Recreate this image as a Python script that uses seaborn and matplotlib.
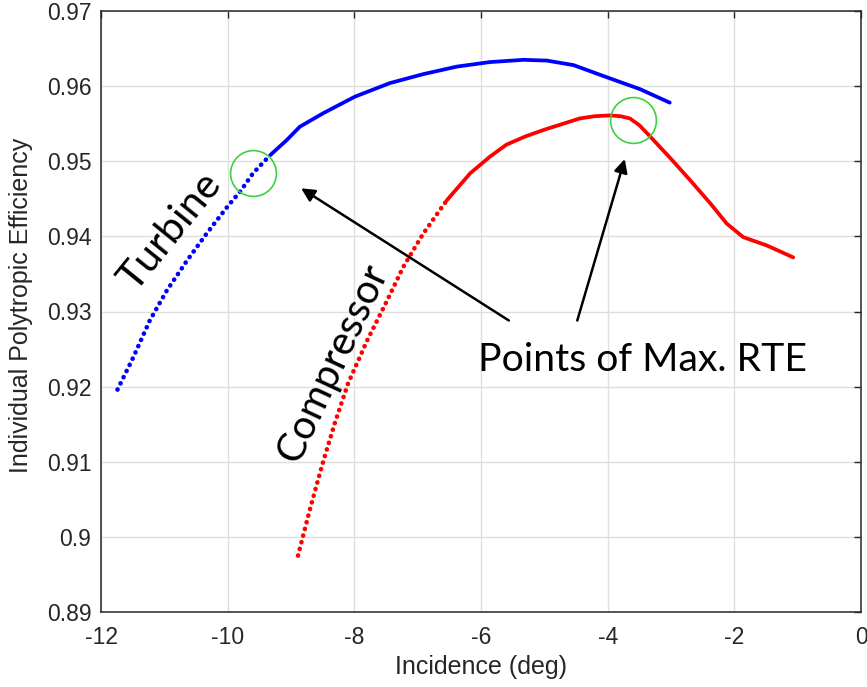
import numpy as np
import pandas as pd
import matplotlib
matplotlib.use("Agg")
import matplotlib.pyplot as plt
import seaborn as sns

# Turbine efficiency vs incidence
turbine_incidence = [-11.74, -11.49, -11.23, -10.96, -10.64, -10.33, -10.00, -9.80,
                     -9.60, -9.33, -9.07, -8.86, -8.49, -7.99, -7.44, -6.91, -6.38,
                     -5.86, -5.33, -4.96, -4.54, -4.02, -3.49, -3.02]
turbine_eff = [0.9196, 0.9239, 0.9288, 0.9328, 0.9368, 0.9404, 0.9440, 0.9460,
               0.9484, 0.9508, 0.9528, 0.9546, 0.9564, 0.9586, 0.9604, 0.9616, 0.9626,
               0.9632, 0.9635, 0.9634, 0.9628, 0.9612, 0.9596, 0.9578]

# Compressor efficiency vs incidence
compressor_incidence = [-8.89, -8.70, -8.51, -8.31, -8.10, -7.80, -7.48, -7.23, -6.91,
                        -6.54, -6.17, -5.86, -5.60, -5.30, -5.00, -4.70, -4.44, -4.20,
                        -3.96, -3.80, -3.65, -3.50, -3.33, -3.02, -2.70, -2.38, -2.12,
                        -1.86, -1.49, -1.07]
compressor_eff = [0.8975, 0.9037, 0.9095, 0.9151, 0.9204, 0.9261, 0.9315, 0.9359, 0.9404,
                  0.9448, 0.9484, 0.9506, 0.9522, 0.9533, 0.9542, 0.9550, 0.9557, 0.9560,
                  0.9561, 0.9560, 0.9557, 0.9548, 0.9533, 0.9505, 0.9475, 0.9444, 0.9417,
                  0.9399, 0.9388, 0.9372]

# Points of maximum round-trip efficiency
max_rte_incidence = [-9.60, -3.60]
max_rte_eff = [0.9485, 0.9555]

x_ticks = [-12, -10, -8, -6, -4, -2, 0]
x_tick_labels = ["-12", "-10", "-8", "-6", "-4", "-2", "0"]
y_ticks = [0.89, 0.90, 0.91, 0.92, 0.93, 0.94, 0.95, 0.96, 0.97]
y_tick_labels = ["0.89", "0.9", "0.91", "0.92", "0.93", "0.94", "0.95", "0.96", "0.97"]

# last index of the sparse (dotted) stretch of each sweep
turbine_split = 9
compressor_split = 9

sns.set_style("white")
plt.rcParams["font.family"] = ["Liberation Sans", "DejaVu Sans"]

ink = "#262626"
fig = plt.figure(figsize=(8.67, 6.87), dpi=100)
ax = fig.add_axes([101 / 867, 75 / 687, 760 / 867, 601 / 687])

turb = pd.DataFrame({"inc": turbine_incidence, "eff": turbine_eff})
comp = pd.DataFrame({"inc": compressor_incidence, "eff": compressor_eff})

dot_style = dict(lw=3.3, dash_capstyle="round", linestyle=(0, (0.05, 1.45)))
solid_style = dict(lw=2.7, solid_capstyle="round", solid_joinstyle="round", linestyle="-")

for df, split, color in [(turb, turbine_split, "#0000ff"), (comp, compressor_split, "#ff0000")]:
    sparse = df.iloc[: split + 1]
    dense = df.iloc[split:]
    sns.lineplot(data=sparse, x="inc", y="eff", sort=False, estimator=None,
                 color=color, ax=ax, legend=False, **dot_style)
    sns.lineplot(data=dense, x="inc", y="eff", sort=False, estimator=None,
                 color=color, ax=ax, legend=False, **solid_style)

ax.plot(max_rte_incidence, max_rte_eff, linestyle="none", marker="o", markersize=33,
        markerfacecolor="none", markeredgecolor="#3fcf3f", markeredgewidth=1.2, zorder=5)

ax.set_xlim(-12, 0)
ax.set_ylim(0.89, 0.97)
ax.set_xticks(x_ticks)
ax.set_xticklabels(x_tick_labels)
ax.set_yticks(y_ticks)
ax.set_yticklabels(y_tick_labels)
ax.grid(True, color="#dedede", lw=1.0)
ax.set_axisbelow(True)
for s in ax.spines.values():
    s.set_color(ink)
    s.set_linewidth(1.1)
    s.set_visible(True)
ax.tick_params(direction="in", length=5, width=1.0, color=ink, labelcolor=ink,
               labelsize=16.5, top=True, right=True)
ax.tick_params(axis="x", pad=10)
ax.tick_params(axis="y", pad=7)

ax.set_xlabel("Incidence (deg)", fontsize=18, color=ink)
ax.set_ylabel("Individual Polytropic Efficiency", fontsize=18, color=ink)
ax.xaxis.set_label_coords(0.5, -0.072)
ax.yaxis.set_label_coords(-0.090, 0.51)

note_font = ["Lato", "DejaVu Sans"]
ax.text(-10.90, 0.9407, "Turbine", rotation=51, rotation_mode="anchor",
        ha="center", va="center", fontsize=29.5, family=note_font, color="black")
ax.text(-8.35, 0.9231, "Compressor", rotation=65, rotation_mode="anchor",
        ha="center", va="center", fontsize=29, family=note_font, color="black")
ax.text(-6.05, 0.9221, "Points of Max. RTE", ha="left", va="baseline",
        fontsize=28.2, family=note_font, color="black")

arrow = dict(arrowstyle="-|>", lw=1.8, color="black", mutation_scale=20,
             shrinkA=0, shrinkB=0)
ax.annotate("", xy=(-8.84, 0.9464), xytext=(-5.56, 0.9288), arrowprops=arrow)
ax.annotate("", xy=(-3.73, 0.9503), xytext=(-4.48, 0.9288), arrowprops=arrow)

fig.savefig("out.png", dpi=100)
